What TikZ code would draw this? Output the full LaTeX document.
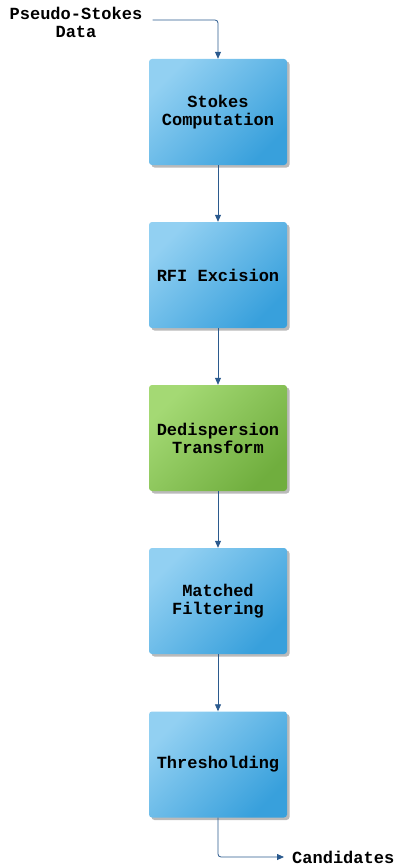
\documentclass[tikz,border=0pt]{standalone}
\usepackage{fontspec}
\setmonofont{Liberation Mono}
\usetikzlibrary{shadows,arrows.meta}
\definecolor{blueA}{HTML}{92D0F2}
\definecolor{blueB}{HTML}{38A0DC}
\definecolor{greenA}{HTML}{A4D974}
\definecolor{greenB}{HTML}{70AE3E}
\definecolor{edgec}{HTML}{2B5A8E}
\tikzset{
  stagebox/.style={minimum width=138pt, minimum height=106pt, rounded corners=3pt,
    top color=blueA, bottom color=blueB, shading angle=45,
    drop shadow={shadow xshift=2.5pt, shadow yshift=-2.5pt, opacity=0.45, fill=black!60},
    align=center, inner sep=2pt, font=\ttfamily\bfseries\fontsize{17}{18}\selectfont},
  greenbox/.style={stagebox, top color=greenA, bottom color=greenB, shading angle=45},
  lbl/.style={align=center, inner sep=0pt, font=\ttfamily\bfseries\fontsize{17}{18}\selectfont},
  flow/.style={draw=edgec, line width=0.8pt, -{Triangle[length=7pt,width=6pt]}, rounded corners=3pt}
}
\begin{document}
\begin{tikzpicture}[x=1pt,y=1pt]
\useasboundingbox (0,0) rectangle (396,-867);
\node[lbl] (src) at (76,-22) {Pseudo-Stokes\\Data};
\node[stagebox] (b1) at (218,-112) {\strut Stokes\\Computation};
\node[stagebox] (b2) at (218,-275) {RFI Excision};
\node[greenbox] (b3) at (218,-438) {\strut Dedispersion\\Transform};
\node[stagebox] (b4) at (218,-601) {\strut Matched\\Filtering};
\node[stagebox] (b5) at (218,-764.5) {Thresholding};
\node[lbl, anchor=west, inner xsep=8pt] (cand) at (284,-857) {Candidates};
\draw[flow] ([xshift=10pt,yshift=2pt]src.east) -| (b1.north);
\draw[flow] (b1.south) -- (b2.north);
\draw[flow] (b2.south) -- (b3.north);
\draw[flow] (b3.south) -- (b4.north);
\draw[flow] (b4.south) -- (b5.north);
\draw[flow] (b5.south) |- (cand.west);
\end{tikzpicture}
\end{document}
